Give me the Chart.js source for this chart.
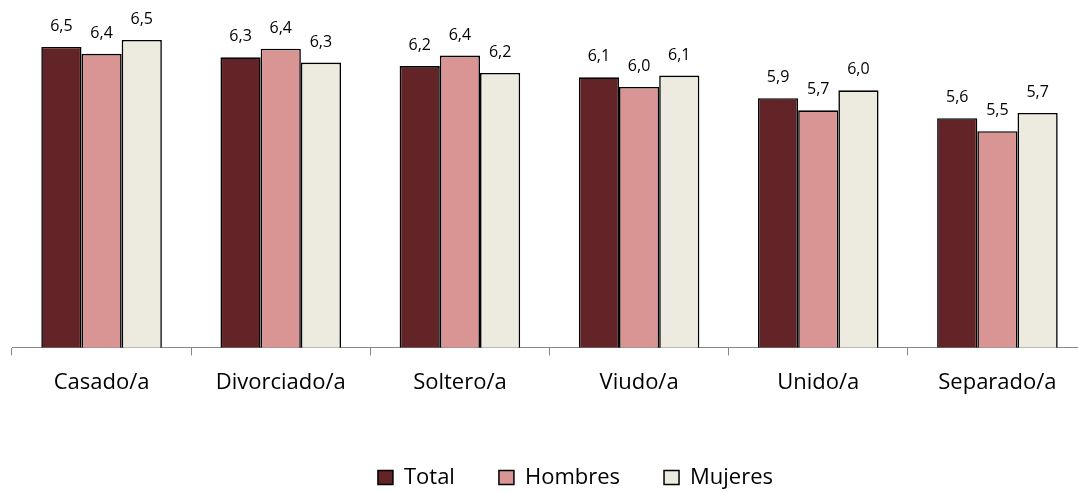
<!DOCTYPE html>
<html>
<head>
<meta charset="utf-8">
<script src="https://cdn.jsdelivr.net/npm/chart.js@4"></script>
<style>
  html, body { margin: 0; padding: 0; background: #fff; overflow: hidden; }
  #wrap { width: 1087px; height: 492px; }
</style>
</head>
<body>
<div id="wrap"><canvas id="chart"></canvas></div>
<script>
const categories = ['Casado/a', 'Divorciado/a', 'Soltero/a', 'Viudo/a', 'Unido/a', 'Separado/a'];
const total    = [6.46, 6.34, 6.24, 6.11, 5.87, 5.64];
const hombres  = [6.38, 6.44, 6.36, 6.00, 5.73, 5.49];
const mujeres  = [6.54, 6.28, 6.16, 6.13, 5.96, 5.70];

const FONT = '"Open Sans", "DejaVu Sans", sans-serif';

// value labels above each bar, one decimal with comma
const barLabels = {
  id: 'barLabels',
  afterDatasetsDraw(chart) {
    const ctx = chart.ctx;
    ctx.save();
    ctx.font = '16px ' + FONT;
    ctx.fillStyle = '#000';
    ctx.textAlign = 'center';
    ctx.textBaseline = 'alphabetic';
    chart.data.datasets.forEach((ds, i) => {
      chart.getDatasetMeta(i).data.forEach((bar, j) => {
        const txt = ds.data[j].toFixed(1).replace('.', ',');
        ctx.fillText(txt, bar.x, bar.y - 16);
      });
    });
    ctx.restore();
  }
};

// legend in the original sits a bit right of centre
const legendShift = {
  id: 'legendShift',
  afterLayout(chart) {
    chart.legend.left += 26;
    chart.legend.right += 26;
  }
};

new Chart(document.getElementById('chart'), {
  type: 'bar',
  data: {
    labels: categories,
    datasets: [
      { label: 'Total', data: total, backgroundColor: '#622426' },
      { label: 'Hombres', data: hombres, backgroundColor: '#D99594' },
      { label: 'Mujeres', data: mujeres, backgroundColor: '#EDEBE0' }
    ]
  },
  options: {
    responsive: true,
    maintainAspectRatio: false,
    animation: false,
    layout: { padding: { left: 12, right: 0, top: 0, bottom: -6.5 } },
    datasets: {
      bar: {
        borderColor: '#000',
        borderWidth: 1.6,
        categoryPercentage: 0.673,
        barPercentage: 1.0
      }
    },
    scales: {
      x: {
        grid: { display: true, drawOnChartArea: false, drawTicks: true, tickLength: 8, color: '#888', offset: true },
        border: { display: true, color: '#888', width: 1 },
        ticks: { color: '#000', font: { family: FONT, size: 22 }, padding: 14, maxRotation: 0 },
        afterFit: (scale) => { scale.height = 75; }
      },
      y: {
        display: false,
        min: 3,
        max: 7
      }
    },
    plugins: {
      legend: {
        position: 'bottom',
        labels: {
          color: '#000',
          font: { family: FONT, size: 22 },
          boxWidth: 15,
          boxHeight: 14,
          padding: 44,
          generateLabels(chart) {
            return chart.data.datasets.map((ds, i) => ({
              text: ds.label,
              fillStyle: ds.backgroundColor,
              strokeStyle: '#000',
              lineWidth: 1.5,
              datasetIndex: i,
              hidden: false
            }));
          }
        }
      },
      tooltip: { enabled: false }
    }
  },
  plugins: [barLabels, legendShift]
});
</script>
</body>
</html>
